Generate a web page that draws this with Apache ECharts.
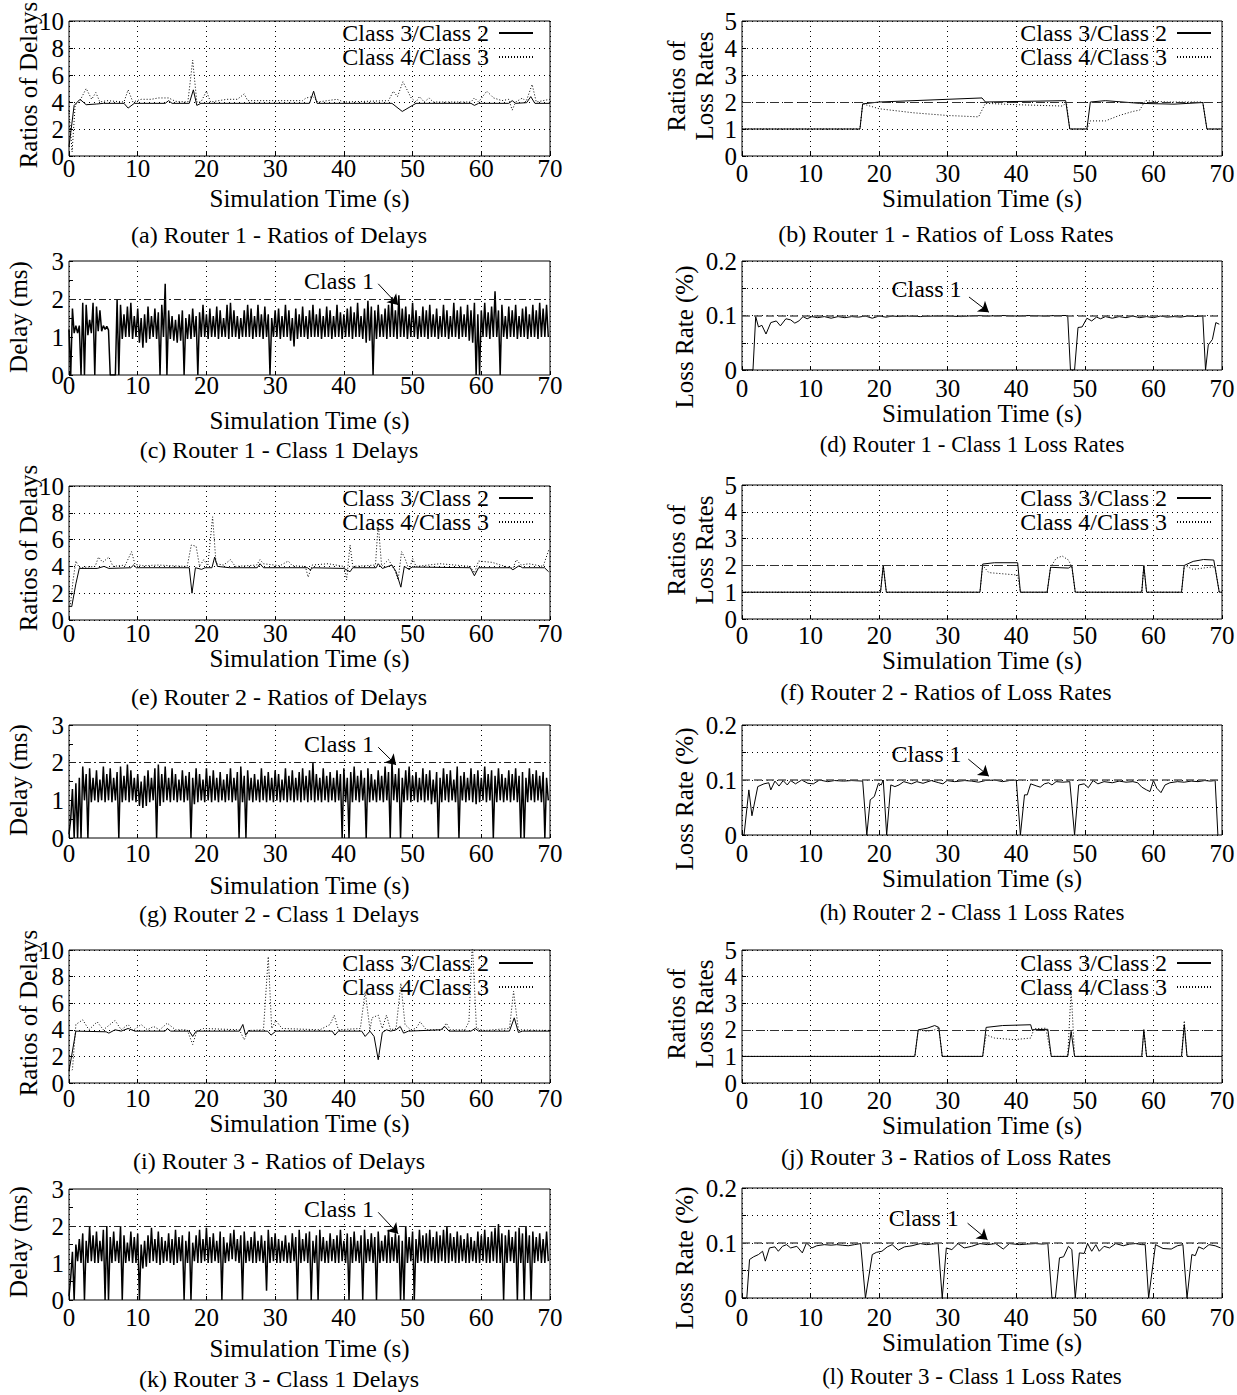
<!DOCTYPE html>
<html>
<head>
<meta charset="utf-8">
<script src="https://cdn.jsdelivr.net/npm/echarts@6/dist/echarts.min.js"></script>
<style>
html, body { margin: 0; padding: 0; background: #fff; }
#main { width: 1237px; height: 1395px; }
</style>
</head>
<body>
<div id="main"></div>
<script>
// ---- data ----
const legendNames = ['Class 3/Class 2', 'Class 4/Class 3'];

// Router 1 - ratios of delays [t, ratio]
const a_c32 = [[0,0.7],[0.75,3.75],[1.6,4.2],[2.5,3.8],[4,3.85],[5,3.9],[8,3.9],[8.6,3.55],[9.5,3.9],[14,3.9],[14.5,4.1],[15,3.9],[17.5,3.9],[18.1,4.9],[18.6,3.75],[19.2,3.9],[35,3.9],[35.6,4.8],[36.1,3.9],[47,3.9],[48.5,3.3],[50.5,3.9],[58.5,3.9],[59,3.75],[59.6,3.9],[64,3.9],[64.5,4.1],[65,3.9],[66.6,3.95],[67.2,4.4],[67.8,3.9],[70,3.9]];
const a_c43 = [[0,3.4],[0.45,0.3],[0.9,3.8],[1.5,4.0],[2.5,5.0],[3.3,4.2],[3.9,4.7],[4.5,4.0],[5.5,4.1],[8,4.0],[8.6,4.9],[9.3,4.0],[10.5,4.2],[12,4.2],[13,4.3],[14.5,4.3],[15.5,4.05],[17.3,4.0],[18,7.1],[18.6,4.0],[19.2,4.0],[20,4.8],[20.6,4.0],[23,4.2],[24.5,4.2],[25.5,4.6],[26,4.1],[30,4.1],[34,4.1],[34.5,4.3],[35.5,4.4],[36.2,4.0],[39,4.2],[40,4.0],[46.5,4.1],[47.2,4.8],[47.8,4.4],[48.6,5.5],[49.8,4.3],[50.5,4.0],[51,4.4],[51.7,4.0],[52.4,4.3],[53,4.0],[58.5,4.0],[59,4.3],[59.6,4.0],[60.8,4.8],[61.8,4.3],[63,4.1],[64,4.2],[64.5,3.4],[65,4.0],[66,4.3],[66.5,4.0],[67.4,5.3],[68,4.0],[70,4.2]];

// Router 1 - ratios of loss rates
const b_c32 = [[0,1],[17.2,1],[17.6,1.93],[20,2.0],[35,2.15],[35.5,2.0],[47.2,2.05],[47.8,1],[50.3,1],[50.8,2.0],[53,2.05],[58,1.95],[63,1.92],[67.2,1.98],[67.8,1],[70,1]];
const b_c43 = [[0,1],[17.2,1],[17.6,1.93],[20,1.75],[25,1.6],[30,1.5],[34.5,1.45],[35.5,1.95],[40,1.9],[46.8,1.85],[47.3,2.0],[47.8,1],[50.3,1],[50.8,1.3],[53,1.3],[55,1.5],[57,1.65],[58,1.7],[58.8,2.05],[62,2.0],[67.2,2.0],[67.8,1],[70,1]];

// Router 1 - class 1 delays (ms), peak and trough of every half second
const c_hi = [1.2,1.75,1.3,1.3,1.9,1.85,1.45,1.9,1.8,1.7,
  1.3,1.28,0,0,2.0,1.85,1.6,1.8,1.9,1.55,
  1.75,1.5,1.6,1.8,1.55,1.75,1.65,1.85,2.4,1.7,
  1.55,1.45,1.6,1.7,1.5,1.6,1.75,1.55,1.65,1.85,
  1.6,1.75,1.55,1.8,1.7,1.5,1.85,1.9,1.7,1.55,
  1.5,1.7,1.85,1.75,1.55,1.85,1.6,1.8,1.6,1.5,
  1.7,1.75,1.55,1.85,1.7,1.5,1.75,1.6,1.8,1.55,
  1.7,1.85,1.6,1.75,1.55,1.8,1.7,1.55,1.85,1.65,
  1.6,1.75,1.8,1.65,1.9,1.55,1.75,1.95,1.8,1.7,
  1.85,1.6,1.75,1.85,2.05,1.7,2.1,1.75,1.8,1.6,
  1.9,1.7,1.55,1.8,1.7,1.85,1.6,1.75,1.55,1.85,
  1.7,1.55,1.9,1.7,1.8,1.6,1.85,1.7,1.9,1.6,
  1.7,1.9,1.65,1.8,2.2,1.7,1.85,1.55,1.8,1.7,
  1.85,1.55,1.75,1.8,1.6,1.85,1.7,1.9,1.75,1.85];
const c_lo = [0,1.1,1.1,0,0,1.05,1.1,0,1.15,1.15,
  1.2,1.18,0,0,0,0.95,1.0,1.0,0.95,1.0,
  0.85,0.72,0.85,0.95,1.0,0.95,0,1.0,0,0.95,
  0.9,0.85,0.9,0,0.95,0.95,1.0,0,1.0,1.0,
  0.95,1.0,1.0,0.95,1.0,1.0,0.95,1.0,1.0,0.95,
  1.0,1.0,1.0,0.95,1.0,1.0,0.95,1.0,0,1.0,
  1.0,0.95,1.0,1.0,0.9,0.75,0.95,1.0,1.0,0.95,
  1.0,1.0,1.0,0.95,1.0,1.0,0.95,1.0,1.0,0.95,
  1.0,1.0,0.95,1.0,1.0,0.95,0.85,0.9,0,0.95,
  1.0,1.0,0.95,1.0,1.0,0.95,1.0,1.0,0.95,1.0,
  1.0,0.95,1.0,1.0,0.95,1.0,1.0,0.95,1.0,1.0,
  0.95,1.0,1.0,0.95,1.0,1.0,0.9,0.85,0,0,
  1.0,1.0,0.95,1.0,1.0,0,1.0,0.95,1.0,1.0,
  0.95,1.0,1.0,0.95,1.0,1.0,0.95,1.0,1.0,1.0];

// Router 1 - class 1 loss rate (%)
const d_loss = [[0,0],[1.6,0],[2.0,0.098],[2.4,0.079],[2.9,0.082],[3.5,0.066],[4.2,0.087],[5.0,0.09],[5.6,0.081],[6.4,0.094],[7.1,0.092],[7.7,0.086],[8.3,0.09],[8.9,0.098],[9.5,0.094],[10.2,0.098],[11,0.096],[12,0.098],[13,0.095],[14,0.098],[15,0.096],[16,0.098],[17,0.097],[18,0.099],[19,0.095],[20,0.099],[21,0.097],[22,0.099],[23,0.098],[24,0.099],[26,0.098],[28,0.099],[30,0.099],[32,0.098],[34,0.1],[36,0.099],[38,0.1],[40,0.099],[42,0.1],[44,0.099],[46,0.1],[47.5,0.1],[47.9,0],[48.5,0],[49.0,0.078],[49.6,0.079],[50.3,0.095],[51,0.09],[51.7,0.097],[52.3,0.094],[53,0.098],[54,0.095],[55,0.098],[56,0.096],[57,0.099],[58,0.096],[59,0.098],[60,0.096],[61,0.099],[62,0.097],[63,0.098],[64,0.097],[65,0.099],[66,0.098],[67.2,0.099],[67.6,0],[68.0,0.046],[68.6,0.056],[69.1,0.087],[69.6,0.084]];

// Router 2 - ratios of delays
const e_c32 = [[0,1.04],[0.4,1.0],[1.0,2.7],[1.5,3.85],[4.1,3.85],[5.1,4.0],[5.8,3.85],[9,3.9],[9.4,4.1],[9.8,3.9],[17.5,3.9],[17.9,2.0],[18.4,3.9],[19.3,3.78],[19.8,3.9],[20.8,3.9],[21.2,4.7],[21.6,4.0],[23.4,3.9],[27.4,3.9],[27.8,4.2],[28.3,3.9],[34.7,3.9],[35.1,3.75],[35.5,3.9],[40,3.85],[40.9,3.6],[41.3,3.9],[44.7,3.9],[45,4.2],[45.6,3.85],[47,4.1],[47.6,3.6],[48.3,2.45],[48.8,4.0],[49.4,3.8],[50,3.95],[58.4,3.9],[59,3.3],[59.6,3.9],[64.2,3.9],[64.6,3.75],[65.5,4.05],[66,3.9],[69.2,3.9],[69.8,3.6]];
const e_c43 = [[0,1.0],[0.2,1.1],[0.6,3.0],[1.0,4.4],[1.5,3.9],[3.8,4.0],[4.3,4.7],[4.9,4.3],[5.8,4.7],[6.4,4.0],[8.2,4.1],[9.1,5.1],[9.6,4.15],[10.8,4.05],[13,4.1],[15,4.05],[17.2,4.0],[17.8,5.6],[18.5,5.5],[19,4.0],[19.6,4.5],[20.2,4.05],[20.9,7.7],[21.4,4.2],[22.5,4.1],[23.5,4.5],[24.2,4.0],[27.3,4.1],[27.8,4.5],[28.3,4.2],[30.7,4.05],[31.9,4.4],[32.5,4.05],[34.4,4.0],[34.8,3.2],[35.4,4.1],[37.7,4.2],[40,4.0],[40.4,3.0],[40.9,5.6],[41.3,4.0],[44.6,4.1],[45,7.2],[45.5,4.0],[46.5,4.5],[47.4,3.7],[47.9,3.0],[48.4,5.1],[48.9,4.6],[49.5,3.7],[50,4.6],[50.5,4.0],[54,4.2],[58.4,4.0],[59,3.5],[59.6,4.4],[61.6,4.3],[62.8,4.1],[64.6,3.85],[65.1,4.5],[65.8,4.1],[66.9,4.2],[69,4.0],[69.8,5.2]];

// Router 2 - ratios of loss rates
const f_c32 = [[0,1],[20.2,1],[20.6,2.0],[21.05,1],[34.7,1],[35.1,2.05],[36.8,2.1],[40.2,2.1],[40.6,1],[44.5,1],[45,1.93],[47.6,1.9],[48.1,1.98],[48.6,1],[58.3,1],[58.6,2.0],[59,1],[64.1,1],[64.5,2.0],[65.8,2.15],[67.3,2.22],[68.8,2.2],[69.6,1],[70,1]];
const f_c43 = [[0,1],[20.2,1],[20.6,2.0],[21.05,1],[34.7,1],[35.1,2.0],[36,1.73],[40.2,1.64],[40.6,1],[44.5,1],[45,1.93],[45.8,2.26],[46.7,2.35],[47.6,2.2],[48.1,1.95],[48.6,1],[58.3,1],[58.6,2.0],[59,1],[64.1,1],[64.5,2.0],[65.8,1.85],[68.1,1.93],[69,1.95],[69.6,1],[70,1]];

// Router 2 - class 1 delays (ms)
const g_hi = [0.1,1.3,1.45,1.6,1.9,1.7,1.85,1.6,1.8,1.55,
  1.9,1.7,1.85,1.6,1.75,1.9,1.65,1.95,1.8,1.6,
  1.7,1.5,1.65,1.8,1.6,1.85,1.95,1.7,1.9,1.6,
  1.85,1.7,1.55,1.8,1.65,1.75,1.6,1.85,1.7,1.55,
  1.85,1.65,1.8,1.6,1.75,1.55,1.7,1.85,1.6,1.75,
  1.9,1.65,1.8,1.6,1.7,1.55,1.85,1.65,1.75,1.6,
  1.8,1.7,1.55,1.85,1.65,1.8,1.6,1.75,1.85,1.65,
  1.8,2.0,1.7,1.6,1.85,1.65,1.75,1.6,1.8,1.7,
  1.85,1.6,1.75,1.9,1.65,1.8,1.6,1.85,1.7,1.55,
  1.8,1.65,1.9,1.75,2.05,1.7,1.85,1.6,1.8,1.9,
  1.65,1.75,1.6,1.85,1.7,1.8,1.55,1.75,1.6,1.85,
  1.7,1.8,1.55,1.9,1.65,1.75,1.6,1.85,1.7,1.8,
  1.6,1.9,1.7,1.8,1.65,1.85,1.7,1.6,1.8,1.7,
  1.85,1.65,1.75,1.6,1.85,1.7,1.8,1.65,1.75,1.6];
const g_lo = [0.5,0,0,0,1.0,0,0.95,1.0,0.95,1.0,
  0.95,1.0,0.95,1.0,0,0.95,1.0,0.95,1.0,0.95,
  0.85,0.8,0.85,0.95,1.0,0,0.85,0.95,1.0,0.95,
  1.0,0.95,1.0,0.95,1.0,0,0.9,0.95,1.0,0.95,
  1.0,0.95,1.0,0.95,1.0,0.95,1.0,0.95,1.0,0,
  0.95,0,1.0,0.95,1.0,0.95,1.0,0.95,1.0,0.95,
  1.0,0.95,1.0,0.95,1.0,0.95,1.0,0.95,1.0,0.95,
  1.0,0.95,1.0,0.95,1.0,0.95,1.0,0.95,1.0,0,
  0.95,0,0.95,1.0,0.95,1.0,0,0.95,1.0,0.95,
  1.0,0.95,1.0,0,1.0,0.95,0,0.95,1.0,0.95,
  1.0,0.95,1.0,0.95,1.0,0.9,0.95,0,0.95,1.0,
  0.95,1.0,0.95,0,1.0,0.95,1.0,0.95,0.9,0.95,
  1.0,0.95,1.0,0,0.95,1.0,0.95,1.0,0.95,1.0,
  0.95,0,0,0.95,1.0,0.95,1.0,0.95,0,1.0];

// Router 2 - class 1 loss rate (%)
const h_loss = [[0,0],[0.3,0],[1.0,0.082],[1.45,0.035],[2.3,0.088],[3.2,0.093],[3.9,0.095],[4.2,0.082],[4.8,0.098],[5.4,0.089],[6.0,0.099],[6.6,0.091],[7.1,0.099],[7.8,0.093],[8.7,0.1],[9.6,0.094],[10.4,0.093],[11.3,0.1],[12.5,0.097],[13.5,0.099],[14.8,0.098],[16,0.099],[17.6,0.098],[18.2,0],[18.7,0.064],[19.3,0.07],[19.9,0.094],[20.3,0.091],[20.6,0.1],[21.1,0],[21.7,0.091],[22.3,0.088],[22.9,0.091],[23.6,0.097],[24.7,0.093],[25.5,0.097],[26.4,0.094],[27.6,0.099],[28.7,0.095],[29.3,0.093],[29.9,0.099],[31,0.097],[32.5,0.099],[33.5,0.098],[34.5,0.096],[35.5,0.099],[36.8,0.1],[38,0.097],[39,0.099],[40,0.1],[40.6,0],[41.2,0.073],[41.6,0.073],[42.1,0.093],[43,0.089],[43.5,0.087],[44.1,0.093],[44.7,0.095],[45.2,0.091],[45.8,0.097],[46.8,0.096],[47.8,0.097],[48.5,0],[49.1,0.091],[49.9,0.093],[50.5,0.086],[51.2,0.099],[51.9,0.093],[52.8,0.097],[54,0.095],[55,0.098],[56,0.096],[57,0.097],[57.7,0.095],[58.3,0.087],[59,0.082],[59.5,0.079],[60,0.099],[60.5,0.085],[61.1,0.077],[61.7,0.091],[62.4,0.095],[63.5,0.097],[64.5,0.096],[65.5,0.098],[66.5,0.097],[67.5,0.099],[68.3,0.098],[69,0.099],[69.4,0]];

// Router 3 - ratios of delays
const i_c32 = [[0,0.9],[1.0,3.9],[5.4,3.85],[5.8,3.75],[6.7,4.0],[7.6,3.9],[8.6,4.1],[9.6,3.9],[14,3.9],[14.3,4.1],[14.8,3.9],[17.5,3.9],[18,3.5],[18.5,3.9],[24.8,3.9],[25.3,4.4],[25.7,3.6],[26.1,3.9],[28.9,3.9],[29.4,3.6],[30.1,3.9],[38.3,3.9],[38.7,3.6],[39.2,3.9],[42.6,3.9],[43.1,3.5],[43.8,3.9],[44.4,3.5],[45,1.75],[45.6,3.8],[46.2,4.0],[46.8,3.9],[47.6,4.0],[48.2,4.25],[48.7,3.75],[49.4,3.9],[54.1,4.0],[54.7,4.25],[55.3,3.9],[58.5,3.9],[59.1,4.1],[59.6,3.9],[64.1,3.9],[64.8,4.9],[65.4,3.8],[66,3.9],[70,3.9]];
const i_c43 = [[0,0.9],[0.5,1.0],[1.0,4.4],[2.0,4.75],[2.9,4.0],[4.1,4.6],[5.0,4.0],[6.7,4.7],[7.6,4.0],[8.6,4.4],[9.3,3.95],[10.5,4.4],[11.4,4.0],[12.3,4.25],[13.2,4.0],[14.3,4.5],[15.5,4.0],[17.2,4.0],[18,2.9],[18.6,3.9],[19.6,4.1],[24.8,4.0],[25.5,3.25],[26.1,3.95],[28.3,4.0],[29,9.5],[29.5,4.1],[30.1,4.7],[31,4.1],[36.5,4.0],[38,4.4],[38.6,5.1],[39.2,4.0],[42.4,4.1],[43.1,6.9],[43.8,4.0],[44.1,4.9],[45,5.1],[45.6,4.1],[46.2,5.1],[46.8,4.0],[47.6,4.1],[48.3,7.5],[48.9,4.4],[49.7,4.0],[50.5,4.1],[51.1,4.6],[52,4.0],[54.3,4.0],[54.9,4.5],[55.5,4.0],[57.6,4.0],[58.2,4.6],[58.7,10.5],[59.3,4.1],[60.5,3.95],[64.1,4.1],[64.7,6.9],[65.4,4.0],[70,3.95]];

// Router 3 - ratios of loss rates
const j_c32 = [[0,1],[25.2,1],[25.7,2.0],[27,2.06],[28.1,2.16],[28.7,2.09],[29.2,1],[35.1,1],[35.6,2.09],[38,2.16],[42.1,2.19],[42.3,2.0],[44.6,2.02],[45.1,1],[47.5,1],[48,1.94],[48.5,1],[58.3,1],[58.6,2.0],[59,1],[64.1,1],[64.5,2.19],[64.9,1],[70,1]];
const j_c43 = [[0,1],[25.2,1],[25.7,2.0],[27,1.94],[28.1,2.0],[28.7,2.09],[29.2,1],[35.1,1],[35.6,1.81],[36.8,1.69],[39.7,1.63],[42.1,1.69],[42.6,2.04],[44.3,2.06],[45.1,1],[47.5,1],[48,3.5],[48.5,1],[58.3,1],[58.6,2.0],[59,1],[64.1,1],[64.5,2.34],[64.9,1],[70,1]];

// Router 3 - class 1 delays (ms)
const k_hi = [0.1,1.3,1.5,1.65,1.8,1.6,2.0,1.75,1.85,1.6,
  1.9,2.0,1.7,1.85,1.6,2.0,1.75,1.55,1.85,1.7,
  1.8,1.5,1.6,1.75,1.95,1.65,1.85,1.7,1.6,1.8,
  1.65,1.9,1.7,1.75,1.6,1.85,1.55,1.75,1.9,1.65,
  1.95,1.7,1.8,1.6,1.85,1.7,1.55,1.8,1.9,1.65,
  1.75,1.85,1.6,1.7,1.85,1.6,1.75,1.6,1.9,1.7,
  1.8,1.65,1.6,1.75,1.55,1.8,1.7,1.9,1.65,1.8,
  1.85,1.6,1.75,1.9,1.7,1.6,1.8,1.65,1.75,1.9,
  1.6,1.8,1.7,1.85,1.6,1.75,1.9,1.65,1.8,1.7,
  1.85,1.6,1.75,1.9,1.7,1.8,1.75,1.6,2.0,1.7,
  1.85,1.65,1.9,1.75,1.8,1.9,1.7,1.85,1.75,1.9,
  2.0,1.8,1.7,1.85,1.75,1.65,1.8,1.7,1.6,1.85,
  1.75,1.9,1.7,1.85,1.95,2.05,1.8,1.75,1.9,1.7,
  1.85,1.95,1.8,2.0,1.75,1.85,1.7,1.8,1.65,1.85];
const k_lo = [0.6,0,1.05,1.0,0,1.0,1.05,1.0,1.0,1.05,
  0,0,1.0,1.05,1.0,0,1.0,1.05,1.0,1.0,
  0,0.85,0.9,1.0,1.05,1.0,0.95,1.0,1.05,1.0,
  0.95,1.0,1.05,0,1.0,0,1.05,1.0,1.0,1.05,
  1.0,1.0,1.05,1.0,0,1.0,1.05,1.1,1.05,1.0,
  0,1.0,1.05,1.0,1.0,1.05,1.0,0.25,1.0,1.05,
  1.0,1.0,1.05,1.0,1.0,1.05,0,1.0,1.05,1.0,
  0,1.0,0,1.05,1.0,1.0,1.05,1.0,1.0,1.05,
  1.0,0,1.0,1.05,1.0,0,1.0,1.05,1.0,0,
  1.0,1.05,1.0,1.0,1.05,1.0,0,0,1.0,1.05,
  0,1.0,1.05,1.0,1.0,1.05,1.0,1.0,1.05,1.0,
  1.0,1.05,1.0,1.0,1.05,1.0,1.0,1.05,1.0,1.0,
  1.05,1.0,1.0,1.05,1.0,1.0,0,1.0,1.05,1.0,
  0,1.0,0,1.0,0,1.0,1.05,1.0,1.0,1.05];

// Router 3 - class 1 loss rate (%)
const l_loss = [[0,0],[0.7,0],[1.1,0.07],[1.7,0.075],[2.4,0.079],[3.0,0.085],[3.4,0.067],[4.0,0.091],[4.8,0.093],[5.3,0.085],[5.9,0.094],[6.5,0.097],[7.1,0.091],[8.0,0.094],[8.8,0.082],[9.4,0.1],[10.2,0.091],[10.9,0.095],[12,0.097],[13,0.096],[13.8,0.097],[14.6,0.096],[15.5,0.095],[16.4,0.097],[17.3,0.099],[18,0],[19,0.079],[19.6,0.083],[20.4,0.085],[21.2,0.093],[21.9,0.097],[22.8,0.087],[23.7,0.093],[24.8,0.095],[26,0.099],[26.9,0.097],[27.6,0.098],[28.6,0.099],[29.2,0],[29.8,0.091],[30.6,0.088],[31.5,0.099],[32.4,0.091],[33.5,0.094],[34.7,0.099],[35.8,0.097],[37,0.099],[38.1,0.089],[39,0.099],[40.5,0.097],[41.5,0.098],[42.8,0.099],[43.8,0.098],[44.6,0.099],[45.2,0],[45.7,0],[46.3,0.073],[46.9,0.075],[47.6,0.094],[48.1,0.088],[48.6,0],[49.2,0.082],[49.9,0.081],[50.4,0.099],[51,0.085],[51.6,0.097],[52.1,0.085],[52.8,0.094],[53.6,0.091],[54.5,0.099],[55.6,0.095],[56.5,0.098],[57.4,0.099],[58.3,0.097],[58.8,0.097],[59.3,0],[60.3,0.097],[61.4,0.09],[62.6,0.089],[63.5,0.095],[64.3,0.097],[64.9,0],[65.6,0.079],[66.1,0.077],[66.6,0.093],[67.3,0.089],[68.1,0.097],[69,0.095],[69.8,0.091]];

// ---- layout ----
const FONT = '"Liberation Serif", "Times New Roman", Times, serif';
const BIN = 0.5;   // seconds between two peaks of the dense delay traces

// peak/trough pairs -> one zig-zag trace
function band(hi, lo) {
  const pts = [];
  for (let i = 0; i < hi.length; i++) {
    pts.push([i * BIN, hi[i]]);
    pts.push([i * BIN + BIN / 2, lo[i]]);
  }
  return pts;
}

// kind: rd = ratio of delays, rl = ratio of loss, d = delay, l = loss rate
const panels = [
  { kind: 'rd', l: 69,  t: 21,   w: 481, h: 135, lm: 0,    ng: 29.5, cap: '(a) Router 1 - Ratios of Delays',     cx: 279, cy: 235,  cs: 24, yl: 'Ratios of Delays',      yx: 28,  yy: 85,   s: [a_c32, a_c43], lg: { r: 703, t: 21 } },
  { kind: 'rl', l: 742, t: 21,   w: 480, h: 135, lm: 4.5,  ng: 29.5, cap: '(b) Router 1 - Ratios of Loss Rates', cx: 946, cy: 234,  cs: 24, yl: 'Ratios of\nLoss Rates', yx: 690, yy: 86,   s: [b_c32, b_c43], lg: { r: 25,  t: 21 } },
  { kind: 'd',  l: 69,  t: 261,  w: 481, h: 114, lm: -2.5, ng: 32.5, cap: '(c) Router 1 - Class 1 Delays',       cx: 279, cy: 450,  cs: 24, yl: 'Delay (ms)',            yx: 18,  yy: 317,  s: [band(c_hi, c_lo)], c1: { txt: [39.3, 2.48], a0: [45, 2.4], a1: [47.9, 1.84] } },
  { kind: 'l',  l: 742, t: 261,  w: 480, h: 109, lm: 5.5,  ng: 24.5, cap: '(d) Router 1 - Class 1 Loss Rates',   cx: 972, cy: 444,  cs: 23, yl: 'Loss Rate (%)',         yx: 684, yy: 337,  s: [d_loss], c1: { txt: [26.9, 0.148], a0: [33.1, 0.134], a1: [36, 0.106] } },
  { kind: 'rd', l: 69,  t: 486,  w: 481, h: 134, lm: 0.5,  ng: 21.5, cap: '(e) Router 2 - Ratios of Delays',     cx: 279, cy: 697,  cs: 24, yl: 'Ratios of Delays',      yx: 28,  yy: 548,  s: [e_c32, e_c43], lg: { r: 703, t: 486 } },
  { kind: 'rl', l: 742, t: 485,  w: 480, h: 134, lm: 3.5,  ng: 28.5, cap: '(f) Router 2 - Ratios of Loss Rates', cx: 946, cy: 692,  cs: 24, yl: 'Ratios of\nLoss Rates', yx: 690, yy: 550,  s: [f_c32, f_c43], lg: { r: 25,  t: 486 } },
  { kind: 'd',  l: 69,  t: 725,  w: 481, h: 113, lm: 2.5,  ng: 34.5, cap: '(g) Router 2 - Class 1 Delays',       cx: 279, cy: 914,  cs: 24, yl: 'Delay (ms)',            yx: 18,  yy: 780,  s: [band(g_hi, g_lo)], c1: { txt: [39.3, 2.5], a0: [45, 2.41], a1: [47.6, 1.94] } },
  { kind: 'l',  l: 742, t: 725,  w: 480, h: 110, lm: 5.5,  ng: 27.5, cap: '(h) Router 2 - Class 1 Loss Rates',   cx: 972, cy: 912,  cs: 23, yl: 'Loss Rate (%)',         yx: 684, yy: 799,  s: [h_loss], c1: { txt: [26.9, 0.148], a0: [33, 0.138], a1: [36, 0.107] } },
  { kind: 'rd', l: 69,  t: 950,  w: 481, h: 133, lm: 2.5,  ng: 22.5, cap: '(i) Router 3 - Ratios of Delays',     cx: 279, cy: 1161, cs: 24, yl: 'Ratios of Delays',      yx: 28,  yy: 1013, s: [i_c32, i_c43], lg: { r: 703, t: 951 } },
  { kind: 'rl', l: 742, t: 950,  w: 480, h: 133, lm: 4.5,  ng: 29.5, cap: '(j) Router 3 - Ratios of Loss Rates', cx: 946, cy: 1157, cs: 24, yl: 'Ratios of\nLoss Rates', yx: 690, yy: 1014, s: [j_c32, j_c43], lg: { r: 25,  t: 951 } },
  { kind: 'd',  l: 69,  t: 1189, w: 481, h: 111, lm: 4.5,  ng: 35.5, cap: '(k) Router 3 - Class 1 Delays',       cx: 279, cy: 1379, cs: 24, yl: 'Delay (ms)',            yx: 18,  yy: 1242, s: [band(k_hi, k_lo)], c1: { txt: [39.3, 2.46], a0: [45, 2.37], a1: [47.9, 1.79] } },
  { kind: 'l',  l: 742, t: 1188, w: 480, h: 110, lm: 6.5,  ng: 31.5, cap: '(l) Router 3 - Class 1 Loss Rates',   cx: 972, cy: 1376, cs: 23, yl: 'Loss Rate (%)',         yx: 684, yy: 1258, s: [l_loss], c1: { txt: [26.5, 0.145], a0: [32.9, 0.136], a1: [35.8, 0.106] } }
];

const yRange = {
  rd: { max: 10, interval: 2 },
  rl: { max: 5, interval: 1 },
  d:  { max: 3, interval: 1 },
  l:  { max: 0.2, interval: 0.05 }
};

const dotted = { color: '#000', width: 1, type: [1, 4] };
const txt = (size) => ({ fontFamily: FONT, fontSize: size, color: '#000' });

const grids = [], xAxes = [], yAxes = [], series = [], legends = [], graphics = [];

panels.forEach((p, i) => {
  grids.push({
    left: p.l, top: p.t, width: p.w, height: p.h,
    show: true, borderColor: '#000', borderWidth: 1, backgroundColor: '#fff',
    containLabel: false, outerBoundsMode: 'none'
  });

  xAxes.push({
    gridIndex: i, type: 'value', min: 0, max: 70, interval: 10,
    axisLine: { show: false },
    axisTick: { show: true, inside: true, length: 4, lineStyle: { color: '#000' } },
    axisLabel: Object.assign({ margin: p.lm }, txt(25)),
    splitLine: { show: true, lineStyle: dotted },
    name: 'Simulation Time (s)', nameLocation: 'middle', nameGap: p.ng,
    nameTextStyle: txt(25)
  });

  const yr = yRange[p.kind];
  const y = {
    gridIndex: i, type: 'value', min: 0, max: yr.max, interval: yr.interval,
    axisLine: { show: false },
    axisTick: { show: true, inside: true, length: 4, lineStyle: { color: '#000' } },
    axisLabel: Object.assign({ margin: 5 }, txt(25)),
    splitLine: { show: p.kind !== 'd', lineStyle: dotted }
  };
  if (p.kind === 'l') {
    // only every second gridline carries a label
    y.axisLabel.formatter = (v) => {
      const r = Math.round(v * 100);
      return r % 10 === 0 ? String(r / 100) : '';
    };
  }
  if (p.kind === 'd') {
    y.minorTick = { show: true, splitNumber: 2, length: 4, lineStyle: { color: '#000' } };
  }
  yAxes.push(y);

  const base = {
    type: 'line', xAxisIndex: i, yAxisIndex: i, symbol: 'none', showSymbol: false,
    silent: true, animation: false, emphasis: { disabled: true }
  };

  if (p.kind === 'rd' || p.kind === 'rl') {
    const s32 = Object.assign({}, base, {
      name: legendNames[0], data: p.s[0], z: 3,
      lineStyle: { color: '#000', width: 1 }, itemStyle: { color: '#000' }
    });
    if (p.kind === 'rl') {
      s32.markLine = {
        silent: true, symbol: ['none', 'none'], label: { show: false }, animation: false,
        data: [{ yAxis: 2, lineStyle: { color: '#333', width: 1.2, type: [9, 5] } }]
      };
    }
    series.push(s32);
    series.push(Object.assign({}, base, {
      name: legendNames[1], data: p.s[1], z: 2,
      lineStyle: { color: '#000', width: 1, type: [1, 2] }, itemStyle: { color: '#000' }
    }));
    legends.push({
      orient: 'vertical', right: p.lg.r, top: p.lg.t, align: 'right', padding: 0,
      itemGap: 0, itemWidth: 34, itemHeight: 10, selectedMode: false,
      data: legendNames,
      itemStyle: { opacity: 0, borderWidth: 0 },
      textStyle: Object.assign({ padding: [0, 5, 0, 0] }, txt(24))
    });
  } else {
    const isDelay = p.kind === 'd';
    const refLine = isDelay
      ? { yAxis: 2, lineStyle: { color: '#222', width: 1, type: [7, 3, 2, 3] } }
      : { yAxis: 0.1, lineStyle: { color: '#555', width: 1.5, type: [8, 4] } };
    const arrowStyle = { color: '#000', width: 1, type: 'solid' };
    series.push(Object.assign({}, base, {
      name: 'Class 1', data: p.s[0], z: 2,
      lineStyle: { color: '#000', width: isDelay ? 1.5 : 1 }, itemStyle: { color: '#000' },
      markLine: {
        silent: true, symbol: ['none', 'none'], label: { show: false }, animation: false,
        data: [
          refLine,
          [
            { coord: p.c1.a0, symbol: 'none', lineStyle: arrowStyle },
            { coord: p.c1.a1, symbol: 'arrow', symbolSize: 10, lineStyle: arrowStyle }
          ]
        ]
      },
      markPoint: {
        silent: true, animation: false, symbol: 'rect', symbolSize: 1,
        itemStyle: { color: 'rgba(0,0,0,0)' },
        label: Object.assign({ show: true, position: 'inside', formatter: 'Class 1' }, txt(24)),
        data: [{ coord: p.c1.txt }]
      }
    }));
  }

  // sub-figure caption
  graphics.push({
    type: 'text', x: p.cx, y: p.cy, silent: true,
    style: { text: p.cap, fontFamily: FONT, fontSize: p.cs, fill: '#000',
             align: 'center', verticalAlign: 'middle' }
  });
  // y axis title
  graphics.push({
    type: 'text', x: p.yx, y: p.yy, rotation: Math.PI / 2, silent: true,
    style: { text: p.yl, fontFamily: FONT, fontSize: 25, fill: '#000', lineHeight: 28,
             align: 'center', verticalAlign: 'middle' }
  });
});

const chart = echarts.init(document.getElementById('main'), null, { renderer: 'svg' });
chart.setOption({
  backgroundColor: '#fff',
  animation: false,
  grid: grids,
  xAxis: xAxes,
  yAxis: yAxes,
  legend: legends,
  series: series,
  graphic: graphics
});
</script>
</body>
</html>
